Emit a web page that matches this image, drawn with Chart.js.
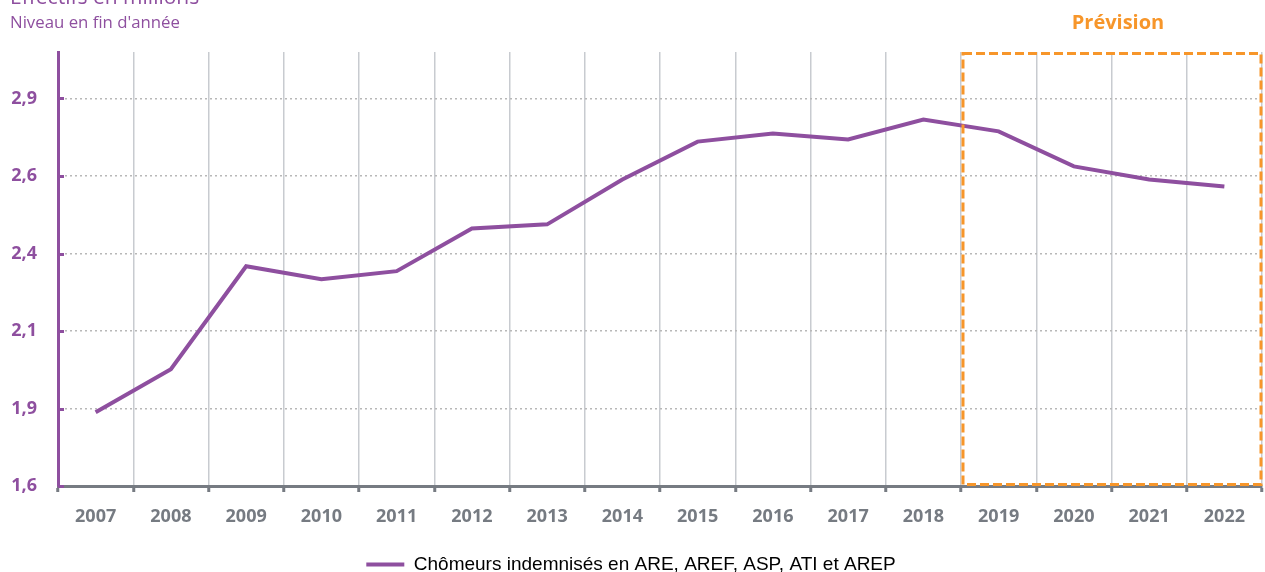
<!DOCTYPE html>
<html><head><meta charset="utf-8">
<script src="https://cdn.jsdelivr.net/npm/chart.js@4"></script>
<style>html,body{margin:0;padding:0;background:#fff}#w{width:1265px;height:572px}</style>
</head><body><div id="w"><canvas id="c"></canvas></div>
<script>
const categories = ['2007','2008','2009','2010','2011','2012','2013','2014','2015','2016','2017','2018','2019','2020','2021','2022'];
const seriesValues = [1.838,1.977,2.309,2.267,2.293,2.431,2.444,2.589,2.711,2.737,2.718,2.782,2.744,2.631,2.589,2.566];
const seriesLabel = 'Chômeurs indemnisés en ARE, AREF, ASP, ATI et AREP';
const yTickValues = [1.6,1.85,2.1,2.35,2.6,2.85];
const yTickLabels = ['1,6','1,9','2,1','2,4','2,6','2,9'];
const forecastStartIndex = 12;
const titleText = 'Effectifs en millions';
const subtitleText = "Niveau en fin d'année";
const forecastText = 'Prévision';

const PURPLE = '#8E4F9F';
const ORANGE = '#F7962A';
const GREY = '#767B82';

const deco = {
  id: 'deco',
  afterDraw(chart) {
    const ctx = chart.ctx, ca = chart.chartArea, x = chart.scales.x, y = chart.scales.y;
    ctx.save();
    ctx.strokeStyle = PURPLE; ctx.lineWidth = 3;
    yTickValues.forEach(v => {
      const py = Math.round(y.getPixelForValue(v)) + 0.5;
      ctx.beginPath(); ctx.moveTo(ca.left, py); ctx.lineTo(ca.left + 6, py); ctx.stroke();
    });
    const step = x.getPixelForValue(1) - x.getPixelForValue(0);
    const left = x.getPixelForValue(forecastStartIndex) - step / 2 + 2;
    const right = ca.right - 1;
    ctx.strokeStyle = ORANGE; ctx.lineWidth = 3; ctx.setLineDash([9, 4]);
    ctx.strokeRect(left, ca.top + 1.5, right - left, ca.bottom - ca.top - 3);
    ctx.setLineDash([]);
    ctx.fillStyle = ORANGE; ctx.font = 'bold 20px "Open Sans"'; ctx.textAlign = 'center'; ctx.textBaseline = 'alphabetic';
    ctx.fillText(forecastText, 1118, 29);
    ctx.fillStyle = PURPLE; ctx.textAlign = 'left';
    ctx.font = '21px "Open Sans"'; ctx.fillText(titleText, 10, 4);
    ctx.font = '16.8px "Open Sans"'; ctx.fillText(subtitleText, 10, 28);
    ctx.restore();
  }
};

new Chart(document.getElementById('c'), {
  type: 'line',
  data: {
    labels: categories,
    datasets: [{
      label: seriesLabel,
      data: seriesValues,
      borderColor: PURPLE,
      backgroundColor: PURPLE,
      borderWidth: 4,
      pointRadius: 0,
      tension: 0,
      fill: false
    }]
  },
  options: {
    responsive: true,
    maintainAspectRatio: false,
    animation: false,
    layout: { padding: { top: 52, right: 3, left: 0, bottom: -12 } },
    plugins: {
      tooltip: { enabled: false },
      legend: {
        position: 'bottom',
        labels: {
          usePointStyle: true, pointStyle: 'line', pointStyleWidth: 38, boxHeight: 4, padding: 1,
          color: '#000', font: { family: '"Liberation Sans", Arial', size: 19 }
        }
      }
    },
    scales: {
      x: {
        type: 'category',
        offset: true,
        grid: { offset: true, color: '#C8CBD0', lineWidth: 1.5, tickLength: 6, tickColor: GREY, tickWidth: 3 },
        border: { color: GREY, width: 3 },
        ticks: { color: GREY, padding: 14, font: { family: '"Open Sans"', size: 18, weight: 'bold' }, maxRotation: 0 },
        afterFit(s) { s.height = 68; }
      },
      y: {
        min: 1.6, max: 3.0,
        afterBuildTicks(s) { s.ticks = yTickValues.map(v => ({ value: v })); },
        grid: { color: '#B8B8B8', lineWidth: 1.5, drawTicks: false },
        border: { color: PURPLE, width: 3, dash: [2, 3] },
        ticks: {
          color: PURPLE, padding: 21,
          font: { family: '"Open Sans"', size: 18, weight: 'bold' },
          callback(v, i) { return yTickLabels[i]; }
        },
        afterFit(s) { s.width = 58; }
      }
    }
  },
  plugins: [deco]
});
</script></body></html>
